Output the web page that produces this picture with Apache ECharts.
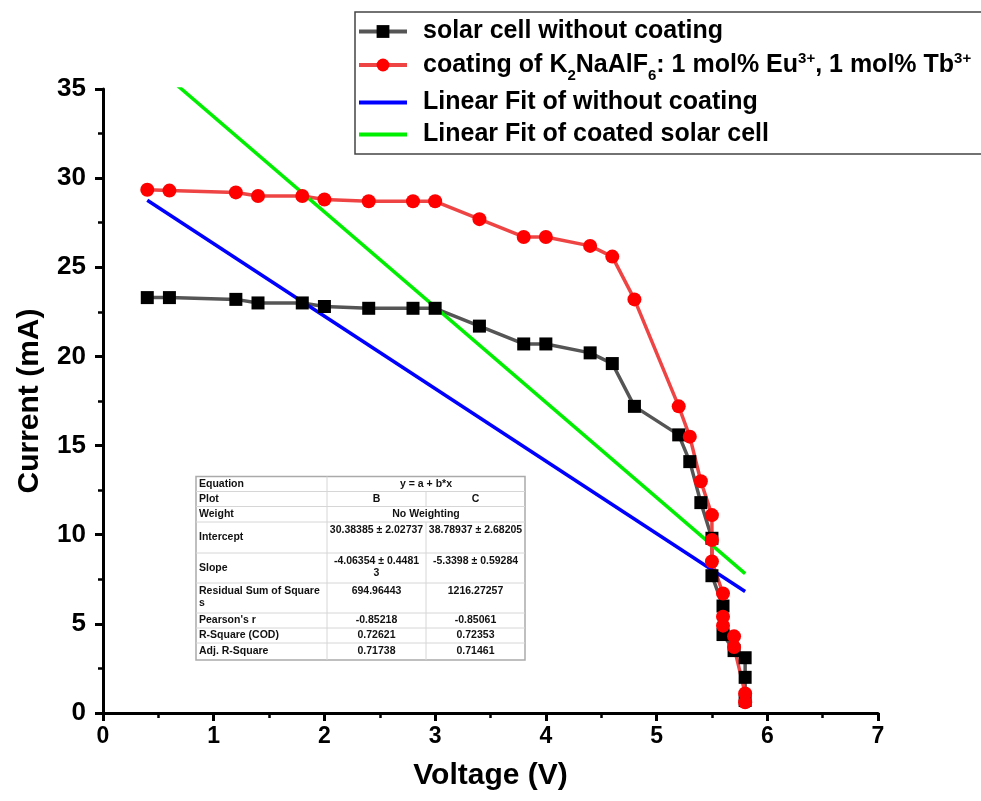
<!DOCTYPE html>
<html>
<head>
<meta charset="utf-8">
<script src="https://cdn.jsdelivr.net/npm/echarts@6/dist/echarts.min.js"></script>
<style>
  html, body { margin: 0; padding: 0; background: #fff; }
  #main { width: 981px; height: 801px; }
</style>
</head>
<body>
<div id="main"></div>
<script>
// solar cell without coating
var voltageBare = [0.4, 0.6, 1.2, 1.4, 1.8, 2.0, 2.4, 2.8, 3.0, 3.4, 3.8, 4.0, 4.4, 4.6, 4.8, 5.2, 5.3, 5.4, 5.5, 5.5, 5.6, 5.6, 5.7, 5.8, 5.8, 5.8];
var currentBare = [23.3, 23.3, 23.2, 23.0, 23.0, 22.8, 22.7, 22.7, 22.7, 21.7, 20.7, 20.7, 20.2, 19.6, 17.2, 15.6, 14.1, 11.8, 9.8, 7.7, 6.0, 4.4, 3.5, 3.1, 2.0, 0.7];
// coated cell
var voltageCoat = [0.4, 0.6, 1.2, 1.4, 1.8, 2.0, 2.4, 2.8, 3.0, 3.4, 3.8, 4.0, 4.4, 4.6, 4.8, 5.2, 5.3, 5.4, 5.5, 5.5, 5.5, 5.6, 5.6, 5.6, 5.7, 5.7, 5.8, 5.8];
var currentCoat = [29.35, 29.3, 29.2, 29.0, 29.0, 28.8, 28.7, 28.7, 28.7, 27.7, 26.7, 26.7, 26.2, 25.6, 23.2, 17.2, 15.5, 13.0, 11.1, 9.7, 8.5, 6.7, 5.4, 4.9, 4.3, 3.7, 1.1, 0.6];
// linear fit end points
var fitVoltage = [0.4, 5.8];
var fitBare = [28.76, 6.81];
var fitCoat = [36.65, 7.82];

var seriesNames = [
  'solar cell without coating',
  'coating of K2NaAlF6: 1 mol% Eu3+, 1 mol% Tb3+',
  'Linear Fit of without coating',
  'Linear Fit of coated solar cell'
];

// fit result table
var tableLabels = ['Equation', 'Plot', 'Weight', 'Intercept', 'Slope', 'Residual Sum of Square\ns', "Pearson's r", 'R-Square (COD)', 'Adj. R-Square'];
var tableB = ['y = a + b*x', 'B', 'No Weighting', '30.38385 ± 2.02737', '-4.06354 ± 0.4481\n3', '694.96443', '-0.85218', '0.72621', '0.71738'];
var tableC = [null, 'C', null, '38.78937 ± 2.68205', '-5.3398 ± 0.59284', '1216.27257', '-0.85061', '0.72353', '0.71461'];

function pairs(xs, ys) {
  return xs.map(function (x, i) { return [x, ys[i]]; });
}

var FONT = '"Liberation Sans", Arial, sans-serif';

// table drawing
var colX = [196, 327, 426, 525];
var rowY = [476.5, 491.5, 506.5, 522, 553, 583, 613, 628, 643, 660];
var tableFont = 'bold 10.5px ' + FONT;
var tableKids = [{
  type: 'rect',
  shape: { x: colX[0], y: rowY[0], width: colX[3] - colX[0], height: rowY[rowY.length - 1] - rowY[0] },
  style: { fill: '#fff', stroke: '#aaa', lineWidth: 1.5 }
}];
for (var r = 1; r < rowY.length - 1; r++) {
  tableKids.push({ type: 'line', shape: { x1: colX[0], y1: rowY[r], x2: colX[3], y2: rowY[r] }, style: { stroke: '#d6d6d6', lineWidth: 1 } });
}
tableKids.push({ type: 'line', shape: { x1: colX[1], y1: rowY[0], x2: colX[1], y2: rowY[rowY.length - 1] }, style: { stroke: '#d6d6d6', lineWidth: 1 } });
tableLabels.forEach(function (lab, i) {
  var top = rowY[i], bot = rowY[i + 1], h = bot - top;
  if (tableC[i] !== null) {
    tableKids.push({ type: 'line', shape: { x1: colX[2], y1: top, x2: colX[2], y2: bot }, style: { stroke: '#d6d6d6', lineWidth: 1 } });
  }
  var multi = lab.indexOf('\n') >= 0;
  tableKids.push({
    type: 'text', x: 199, y: multi ? top + 2 : top + h / 2,
    style: { text: lab, font: tableFont, fill: '#111', align: 'left', verticalAlign: multi ? 'top' : 'middle', lineHeight: 12 }
  });
  var tall = h > 20;
  if (tableC[i] === null) {
    tableKids.push({
      type: 'text', x: (colX[1] + colX[3]) / 2, y: top + h / 2,
      style: { text: tableB[i], font: tableFont, fill: '#111', align: 'center', verticalAlign: 'middle' }
    });
  } else {
    [tableB[i], tableC[i]].forEach(function (v, k) {
      tableKids.push({
        type: 'text', x: (colX[1 + k] + colX[2 + k]) / 2, y: tall ? top + 2 : top + h / 2,
        style: { text: v, font: tableFont, fill: '#111', align: 'center', verticalAlign: tall ? 'top' : 'middle', lineHeight: 12 }
      });
    });
  }
});

var chart = echarts.init(document.getElementById('main'), null, { renderer: 'canvas' });

var axisCommon = {
  axisLine: { onZero: false, lineStyle: { color: '#000', width: 3 } },
  axisTick: { inside: false, length: 8, lineStyle: { color: '#000', width: 3 } },
  minorTick: { show: true, splitNumber: 2, length: 5, lineStyle: { color: '#000', width: 2.5 } },
  splitLine: { show: false },
  nameTextStyle: { color: '#000', fontSize: 30, fontWeight: 'bold', fontFamily: FONT }
};

var legendRich = {
  g: { width: 11 },
  n: { fontSize: 25, fontWeight: 'bold', fontFamily: FONT, color: '#000', lineHeight: 28, verticalAlign: 'middle' },
  sub: { fontSize: 15, fontWeight: 'bold', fontFamily: FONT, color: '#000', lineHeight: 15, verticalAlign: 'top', padding: [17, 0, 0, 0] },
  sup: { fontSize: 15, fontWeight: 'bold', fontFamily: FONT, color: '#000', lineHeight: 15, verticalAlign: 'top', padding: [0, 0, 0, 0] }
};

var option = {
  backgroundColor: '#fff',
  animation: false,
  grid: { left: 103, right: 103, top: 89, bottom: 88, containLabel: false },
  xAxis: Object.assign({}, axisCommon, {
    type: 'value', min: 0, max: 7, interval: 1,
    name: 'Voltage (V)', nameLocation: 'middle', nameGap: 48,
    axisLabel: { color: '#000', fontSize: 23, fontWeight: 'bold', fontFamily: FONT, margin: 12 }
  }),
  yAxis: Object.assign({}, axisCommon, {
    type: 'value', min: 0, max: 35, interval: 5,
    name: 'Current (mA)', nameLocation: 'middle', nameGap: 58,
    axisLabel: { color: '#000', fontSize: 26, fontWeight: 'bold', fontFamily: FONT, margin: 17 }
  }),
  legend: {
    orient: 'vertical',
    left: 355, top: 12,
    padding: [7, 40, 7, 2],
    itemWidth: 48, itemHeight: 16, itemGap: 7,
    borderColor: '#444', borderWidth: 1.5,
    lineStyle: { width: 4 },
    data: seriesNames,
    textStyle: { color: '#000', fontSize: 25, fontWeight: 'bold', fontFamily: FONT, rich: legendRich },
    formatter: function (name) {
      if (name === seriesNames[1]) {
        return '{g|}{n|coating of K}{sub|2}{n|NaAlF}{sub|6}{n|: 1 mol% Eu}{sup|3+}{n|, 1 mol% Tb}{sup|3+}';
      }
      return '{g|}{n|' + name + '}';
    }
  },
  graphic: [{ type: 'group', z: 100, children: tableKids }],
  series: [
    {
      name: seriesNames[0], type: 'line',
      data: pairs(voltageBare, currentBare),
      symbol: 'rect', symbolSize: 13,
      itemStyle: { color: '#000' },
      lineStyle: { color: '#555', width: 3.5 }
    },
    {
      name: seriesNames[1], type: 'line',
      data: pairs(voltageCoat, currentCoat),
      symbol: 'circle', symbolSize: 14,
      itemStyle: { color: '#ff0000' },
      lineStyle: { color: '#ef4444', width: 3.5 }
    },
    {
      name: seriesNames[2], type: 'line',
      data: pairs(fitVoltage, fitBare),
      symbol: 'none', itemStyle: { color: 'rgba(0,0,0,0)' },
      lineStyle: { color: '#0000ff', width: 3.5 }
    },
    {
      name: seriesNames[3], type: 'line',
      data: pairs(fitVoltage, fitCoat),
      symbol: 'none', itemStyle: { color: 'rgba(0,0,0,0)' },
      lineStyle: { color: '#00ee00', width: 3.5 }
    }
  ]
};

chart.setOption(option);
</script>
</body>
</html>
